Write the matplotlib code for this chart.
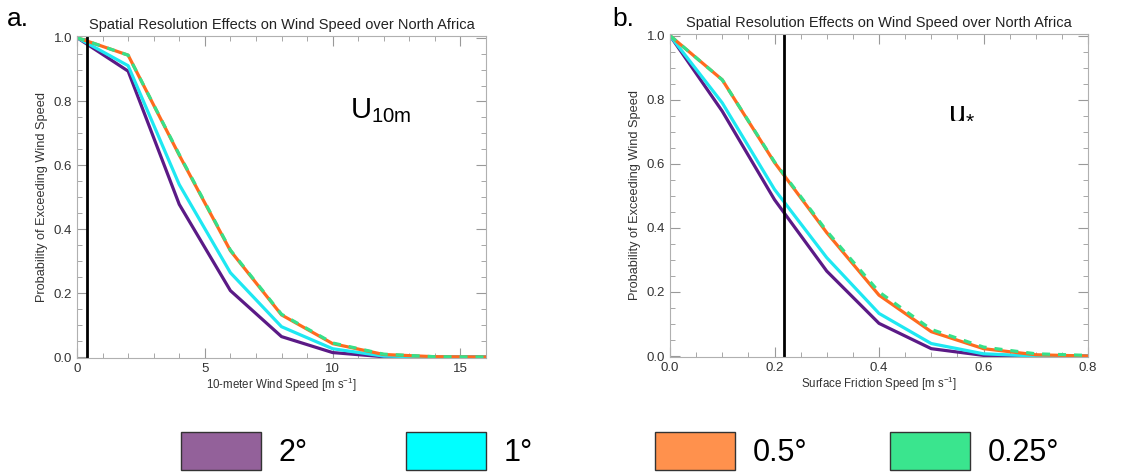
import matplotlib.pyplot as plt
import matplotlib.patches as mpatches
from matplotlib.ticker import MultipleLocator

plt.rcParams['font.family'] = ['Liberation Sans', 'DejaVu Sans']
plt.rcParams['mathtext.fontset'] = 'custom'
plt.rcParams['mathtext.rm'] = 'Liberation Sans'

# panel a: 10-m wind speed
u10_x = [0, 2, 4, 6, 8, 10, 12, 14, 16]
u10_2deg = [1.0, 0.895, 0.478, 0.208, 0.064, 0.014, 0.001, 0.0, 0.0]
u10_1deg = [1.0, 0.912, 0.54, 0.264, 0.095, 0.026, 0.003, 0.0, 0.0]
u10_05deg = [1.0, 0.945, 0.632, 0.333, 0.132, 0.042, 0.008, 0.001, 0.0]
u10_025deg = [1.0, 0.945, 0.634, 0.335, 0.134, 0.044, 0.009, 0.001, 0.0]
u10_thresh = 0.4

# panel b: friction speed
ust_x = [0.0, 0.1, 0.2, 0.3, 0.4, 0.5, 0.6, 0.7, 0.8]
ust_2deg = [1.0, 0.764, 0.488, 0.265, 0.102, 0.023, 0.002, 0.0, 0.0]
ust_1deg = [1.0, 0.79, 0.52, 0.307, 0.133, 0.039, 0.007, 0.0, 0.0]
ust_05deg = [1.0, 0.862, 0.604, 0.385, 0.19, 0.076, 0.023, 0.004, 0.0]
ust_025deg = [1.0, 0.862, 0.606, 0.39, 0.2, 0.083, 0.028, 0.007, 0.002]
ust_thresh = 0.218

labels = ['2°', '1°', '0.5°', '0.25°']
line_colors = ['#5b1a86', '#1ee8f2', '#ff6a1e', '#35e08a']
patch_colors = ['#93619a', '#00ffff', '#ff914d', '#3ae58e']

fig = plt.figure(figsize=(11.48, 4.72), dpi=100)
W, H = 1148, 472
ax1 = fig.add_axes([77 / W, 1 - 358 / H, (486 - 77) / W, (358 - 36) / H])
ax2 = fig.add_axes([670 / W, 1 - 357 / H, (1088 - 670) / W, (357 - 34) / H])

panels = [
    (ax1, u10_x, [u10_2deg, u10_1deg, u10_05deg, u10_025deg], u10_thresh,
     (0, 16), 5, 1, '10-meter Wind Speed [m s$^{-1}$]', 'a.'),
    (ax2, ust_x, [ust_2deg, ust_1deg, ust_05deg, ust_025deg], ust_thresh,
     (0, 0.8), 0.2, 0.05, 'Surface Friction Speed [m s$^{-1}$]', 'b.'),
]

for ax, x, ys, thr, xlim, xmaj, xmin, xlabel, tag in panels:
    ax.plot(x, ys[0], color=line_colors[0], lw=2.3)
    ax.plot(x, ys[1], color=line_colors[1], lw=2.3)
    ax.plot(x, ys[2], color=line_colors[2], lw=2.3)
    ax.plot(x, ys[3], color=line_colors[3], lw=2.3, linestyle=(0, (2.5, 2.5)))
    ax.axvline(thr, color='black', lw=2)
    ax.set_xlim(*xlim)
    ax.set_ylim(-0.003, 1.005)
    ax.xaxis.set_major_locator(MultipleLocator(xmaj))
    ax.xaxis.set_minor_locator(MultipleLocator(xmin))
    ax.yaxis.set_major_locator(MultipleLocator(0.2))
    ax.yaxis.set_minor_locator(MultipleLocator(0.05))
    ax.tick_params(which='both', direction='in', top=True, right=True,
                   color='#999999', labelsize=9.5, labelcolor='#333333')
    ax.tick_params(which='major', length=7)
    ax.tick_params(which='minor', length=3.5)
    for s in ax.spines.values():
        s.set_color('#b0b0b0')
    if xmaj == 5:
        ax.set_xticks([0, 5, 10, 15])
    else:
        ax.xaxis.set_major_formatter(plt.FuncFormatter(lambda v, p: f'{v:.1f}'))
    ax.yaxis.set_major_formatter(plt.FuncFormatter(lambda v, p: f'{v:.1f}'))
    ax.set_xlabel(xlabel, fontsize=8.3, color='#333333', labelpad=1)
    ax.set_ylabel('Probability of Exceeding Wind Speed', fontsize=9.2,
                  color='#333333', labelpad=4)
    ax.set_title('Spatial Resolution Effects on Wind Speed over North Africa',
                 fontsize=10.5, color='#222222', pad=5)

fig.text(7 / W, 1 - 19 / H, 'a.', fontsize=19, va='center', ha='left')
fig.text(612 / W, 1 - 19 / H, 'b.', fontsize=19, va='center', ha='left')
ax1.text(0.667, 0.745, r'U$_{\mathregular{10m}}$', transform=ax1.transAxes,
         fontsize=21, va='baseline')
ax2.text(0.665, 0.74, r'u$_{\mathregular{*}}$', transform=ax2.transAxes,
         fontsize=22, va='baseline')

# legend boxes at the bottom
box_x = [181, 406, 655, 890]
for bx, c, lab in zip(box_x, patch_colors, labels):
    fig.patches.append(mpatches.Rectangle((bx / W, 1 - 470 / H), 80 / W, 38 / H,
                                          transform=fig.transFigure,
                                          facecolor=c, edgecolor='#333333', lw=1))
    fig.text((bx + 98) / W, 1 - 453 / H, lab, fontsize=22,
             family=['Liberation Sans Narrow', 'Liberation Sans', 'DejaVu Sans'],
             va='center', ha='left')

fig.savefig('out.png', dpi=100)
